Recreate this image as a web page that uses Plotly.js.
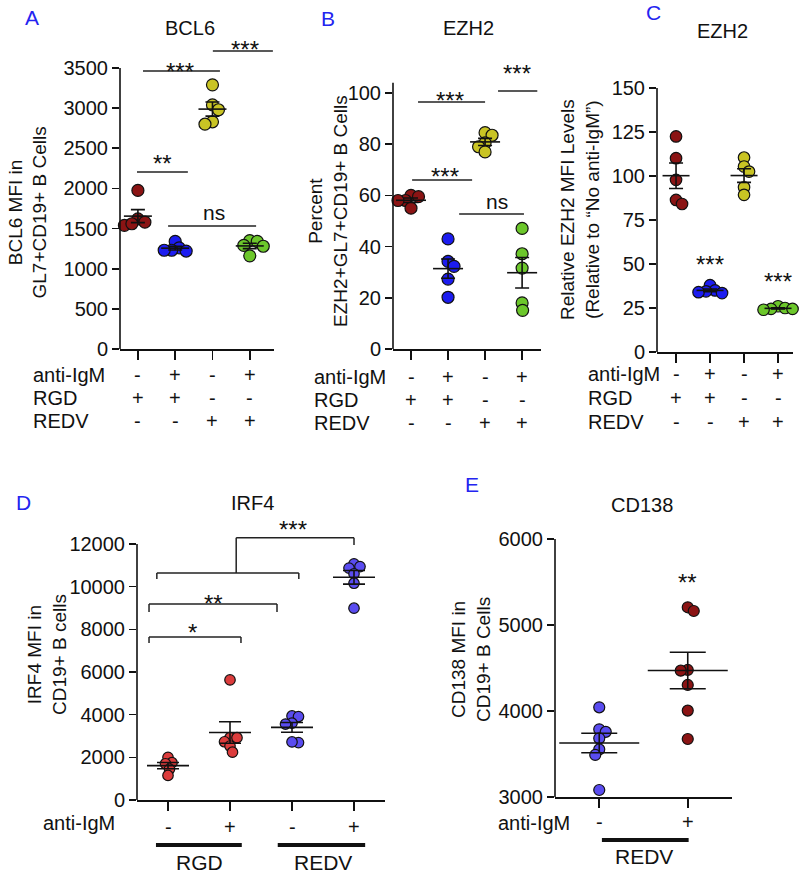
<!DOCTYPE html>
<html><head><meta charset="utf-8">
<script src="https://cdn.plot.ly/plotly-3.0.1.min.js"></script>
<style>html,body{margin:0;padding:0;background:#fff}#chart{width:800px;height:873px}</style>
</head><body><div id="chart"></div>
<script>
// ---------------- DATA ----------------
const categories4 = [1, 2, 3, 4];
const antiIgM_ABC = ['-', '+', '-', '+'];
const RGD_ABC = ['+', '+', '-', '-'];
const REDV_ABC = ['-', '-', '+', '+'];
const categoriesD = [1, 2, 3, 4];
const antiIgM_D = ['-', '+', '-', '+'];
const categoriesE = [1, 2];
const antiIgM_E = ['-', '+'];

// A: BCL6 MFI
const bcl6_RGD = [1975, 1620, 1580, 1540, 1560];
const bcl6_RGD_IgM = [1340, 1260, 1230, 1220, 1230];
const bcl6_REDV = [3290, 3040, 2980, 2830, 2800];
const bcl6_REDV_IgM = [1350, 1340, 1290, 1280, 1160];
// B: Percent EZH2+
const ezh2pct_RGD = [60, 59.5, 58, 58, 55];
const ezh2pct_RGD_IgM = [43, 34.2, 32.3, 27.3, 20.2];
const ezh2pct_REDV = [84.5, 83.5, 80.5, 79, 77];
const ezh2pct_REDV_IgM = [47.1, 37.2, 31.6, 18, 15.1];
// C: Relative EZH2 MFI
const ezh2rel_RGD = [122.5, 110.1, 97.8, 86.4, 84.1];
const ezh2rel_RGD_IgM = [38, 35, 34.5, 34, 33.5];
const ezh2rel_REDV = [110.5, 105.4, 102.5, 93.6, 89.3];
const ezh2rel_REDV_IgM = [26, 25, 24.5, 24.5, 24];
// D: IRF4 MFI
const irf4_RGD = [2000, 1750, 1700, 1450, 1150];
const irf4_RGD_IgM = [5630, 2920, 2920, 2730, 2530, 2240];
const irf4_REDV = [3940, 3910, 3600, 3560, 2690, 2720];
const irf4_REDV_IgM = [11070, 10940, 10870, 10600, 10160, 8990];
// E: CD138 MFI
const cd138_REDV = [4045, 3790, 3760, 3685, 3557, 3492, 3085];
const cd138_REDV_IgM = [5207, 5164, 4479, 4471, 4305, 4007, 3677];

// ---------------- STYLE / LAYOUT ----------------
const W = 800, H = 873;
const FONT = 'Liberation Sans, Arial, Helvetica, sans-serif';
const C_DRED = '#8B1414', C_BLUE = '#1C1CF0', C_YEL = '#C9C424', C_GRN = '#6CC72B',
      C_LRED = '#DC3C3C', C_LAV = '#5A4CF0', C_LETTER = '#2424F0';
const TICK_FS = 20, TXT_FS = 20, YT_FS = 19, STAR_FS = 24;
const fx = p => p / W, fy = p => 1 - p / H;

const panels = [
  { k: '', xr: [0.52, 4.65], xpx: [120, 274], yr: [0, 3900], y0px: 349, ppu: 281 / 3500, dtick: 500, yTop: 3500,
    groups: [bcl6_RGD, bcl6_RGD_IgM, bcl6_REDV, bcl6_REDV_IgM], cats: categories4,
    colors: [C_DRED, C_BLUE, C_YEL, C_GRN], msize: 12, meanLen: 28, capHalf: 7 },
  { k: '2', xr: [0.514, 4.51], xpx: [393, 541], yr: [0, 113], y0px: 349, ppu: 2.56, dtick: 20, yTop: 104,
    groups: [ezh2pct_RGD, ezh2pct_RGD_IgM, ezh2pct_REDV, ezh2pct_REDV_IgM], cats: categories4,
    colors: [C_DRED, C_BLUE, C_YEL, C_GRN], msize: 12, meanLen: 30, capHalf: 7 },
  { k: '3', xr: [0.44, 4.44], xpx: [657, 793], yr: [0, 150], y0px: 352, ppu: 264 / 150, dtick: 25, yTop: 150,
    groups: [ezh2rel_RGD, ezh2rel_RGD_IgM, ezh2rel_REDV, ezh2rel_REDV_IgM], cats: categories4,
    colors: [C_DRED, C_BLUE, C_YEL, C_GRN], msize: 11.5, meanLen: 27, capHalf: 7 },
  { k: '4', xr: [0.5, 4.5], xpx: [137, 385], yr: [0, 13100], y0px: 800, ppu: 256 / 12000, dtick: 2000, yTop: 12000,
    groups: [irf4_RGD, irf4_RGD_IgM, irf4_REDV, irf4_REDV_IgM], cats: categoriesD,
    colors: [C_LRED, C_LRED, C_LAV, C_LAV], msize: 10.5, meanLen: 42, capHalf: 11 },
  { k: '5', xr: [0.5, 2.5], xpx: [555, 732], yr: [3000, 6000], y0px: 797.3, ppu: 258.3 / 3000, dtick: 1000, yTop: 6000,
    groups: [cd138_REDV, cd138_REDV_IgM], cats: categoriesE,
    colors: [C_LAV, C_DRED], msize: 11, meanLen: 80, capHalf: 18 }
];

function mean(a) { return a.reduce((s, v) => s + v, 0) / a.length; }
function sem(a) { const m = mean(a); const sd = Math.sqrt(a.reduce((s, v) => s + (v - m) * (v - m), 0) / (a.length - 1)); return sd / Math.sqrt(a.length); }

// beeswarm layout of points (pixel based, deterministic)
function swarm(vals, center, pxPerX, pxPerY, d) {
  const idx = vals.map((v, i) => i).sort((a, b) => vals[b] - vals[a]);
  const placed = []; const xs = new Array(vals.length); let flip = 1;
  for (const i of idx) {
    const py = vals[i] * pxPerY; let best = null;
    for (let k = 0; k < 400 && best === null; k++) {
      const offs = k === 0 ? [0] : [flip * k * 0.5, -flip * k * 0.5];
      for (const o of offs) {
        if (placed.every(p => Math.hypot(p.px - o, p.py - py) >= d)) { best = o; break; }
      }
    }
    if (best !== 0) flip = -flip;
    placed.push({ px: best, py }); xs[i] = center + best / pxPerX;
  }
  return xs;
}

const traces = [], meanTraces = [];
const layout = {
  width: W, height: H, margin: { l: 0, r: 0, t: 0, b: 0 }, showlegend: false,
  paper_bgcolor: '#fff', plot_bgcolor: 'rgba(0,0,0,0)', font: { family: FONT, color: '#111', size: 18 },
  shapes: [], annotations: []
};

panels.forEach(p => {
  const xa = 'xaxis' + p.k, ya = 'yaxis' + p.k, xid = 'x' + p.k, yid = 'y' + p.k;
  const topPx = p.y0px - (p.yr[1] - p.yr[0]) * p.ppu;
  const pxPerX = (p.xpx[1] - p.xpx[0]) / (p.xr[1] - p.xr[0]);
  layout[xa] = { domain: [fx(p.xpx[0]), fx(p.xpx[1])], range: p.xr, anchor: yid, showgrid: false, zeroline: false,
    showline: true, linewidth: 1.6, linecolor: '#111', ticks: 'outside', ticklen: 9, tickwidth: 1.6, tickcolor: '#111',
    tickvals: p.cats, showticklabels: false, fixedrange: true };
  layout[ya] = { domain: [fy(p.y0px), fy(topPx)], range: p.yr, anchor: xid, showgrid: false, zeroline: false,
    showline: false, ticks: 'outside', ticklen: 7, tickwidth: 1.6, tickcolor: '#111', dtick: p.dtick, tick0: 0,
    tickformat: 'd', tickfont: { family: FONT, size: TICK_FS, color: '#111' }, fixedrange: true };
  layout.shapes.push({ type: 'line', xref: xid + ' domain', yref: yid, x0: 0, x1: 0, y0: p.yr[0], y1: p.yTop,
    line: { color: '#111', width: 1.6 } });
  p.groups.forEach((g, gi) => {
    const xs = swarm(g, p.cats[gi], pxPerX, p.ppu, p.msize * 0.62);
    traces.push({ type: 'scatter', mode: 'markers', xaxis: xid, yaxis: yid, x: xs, y: g, cliponaxis: false,
      marker: { size: p.msize, color: p.colors[gi], line: { color: '#111', width: 1.2 } }, hoverinfo: 'y' });
    meanTraces.push({ type: 'scatter', mode: 'markers', xaxis: xid, yaxis: yid, x: [p.cats[gi]], y: [mean(g)],
      cliponaxis: false,
      marker: { symbol: 'line-ew', size: p.meanLen / 1.4, color: '#111', line: { color: '#111', width: 1.6 } },
      error_y: { type: 'data', array: [sem(g)], visible: true, color: '#111', thickness: 1.6, width: p.capHalf },
      hoverinfo: 'y' });
  });
});

// ---------- significance brackets ----------
function ln(k, x0, y0, x1, y1, w) {
  layout.shapes.push({ type: 'line', xref: 'x' + k, yref: 'y' + k, x0, y0, x1, y1, line: { color: '#222', width: w || 1.5 } });
}
function star(k, x, y, t, isText) {
  layout.annotations.push({ xref: 'x' + k, yref: 'y' + k, x, y, text: t, showarrow: false, xanchor: 'center',
    yanchor: 'middle', yshift: isText ? 2 : -6, font: { family: FONT, size: isText ? 21 : STAR_FS, color: '#111' } });
}
// A
ln('', 1.137, 3462, 3.20, 3462); ln('', 3.01, 3712, 4.62, 3712); ln('', 0.976, 2204, 2.34, 2204); ln('', 1.81, 1532, 4.17, 1532);
star('', 2.13, 3537, '***'); star('', 3.87, 3811, '***'); star('', 1.65, 2379, '**'); star('', 3.04, 1681, 'ns', true);
// B
ln('2', 1.19, 96.5, 3.0, 96.5); ln('2', 1.03, 66, 2.65, 66); ln('2', 2.30, 52.7, 4.05, 52.7); ln('2', 3.35, 100.8, 4.41, 100.8);
star('2', 2.05, 99.6, '***'); star('2', 1.92, 69.9, '***'); star('2', 3.32, 57.0, 'ns', true); star('2', 3.87, 109.8, '***');
// C
star('3', 2, 53.4, '***'); star('3', 4, 43.2, '***');
// D
ln('4', 0.694, 7360, 0.694, 7640); ln('4', 0.694, 7640, 2.177, 7640); ln('4', 2.177, 7640, 2.177, 7360);
ln('4', 0.694, 8810, 0.694, 9190); ln('4', 0.694, 9190, 2.758, 9190); ln('4', 2.758, 9190, 2.758, 8810);
ln('4', 0.82, 10360, 0.82, 10640); ln('4', 0.82, 10640, 3.11, 10640); ln('4', 3.11, 10640, 3.11, 10360);
ln('4', 2.10, 10640, 2.10, 12296); ln('4', 2.10, 12296, 4.0, 12296); ln('4', 4.0, 12296, 4.0, 11953);
star('4', 1.40, 8110, '*'); star('4', 1.74, 9470, '**'); star('4', 3.02, 12940, '***');
// E
star('5', 2, 5570, '**');

// ---------- paper text ----------
function ptext(xpx, ypx, t, opt) {
  opt = opt || {};
  layout.annotations.push(Object.assign({ xref: 'paper', yref: 'paper', x: fx(xpx), y: fy(ypx), text: t, showarrow: false,
    xanchor: opt.xa || 'center', yanchor: 'middle',
    font: { family: FONT, size: opt.size || TXT_FS, color: opt.color || '#111' } }, opt.extra || {}));
}
// panel letters
[['A', 32, 17], ['B', 328, 18], ['C', 653, 13], ['D', 23, 503], ['E', 472, 484]].forEach(a =>
  ptext(a[1], a[2], a[0], { size: 21, color: C_LETTER }));
// titles
ptext(190, 28, 'BCL6', { size: 20 }); ptext(468, 28, 'EZH2', { size: 20 }); ptext(722, 31, 'EZH2', { size: 20 });
ptext(253, 503, 'IRF4', { size: 20 }); ptext(642, 505, 'CD138', { size: 20 });
// y-axis titles
const yt = { size: YT_FS };
ptext(27.5, 213, 'BCL6 MFI in<br>GL7+CD19+ B Cells', Object.assign({ extra: { textangle: -90 } }, yt));
ptext(328, 211, 'Percent<br>EZH2+GL7+CD19+ B Cells', Object.assign({ extra: { textangle: -90 } }, yt));
ptext(580, 210, 'Relative EZH2 MFI Levels<br>(Relative to \u201CNo anti-IgM\u201D)', Object.assign({ extra: { textangle: -90 } }, yt));
ptext(47, 655, 'IRF4 MFI in<br>CD19+ B cells', Object.assign({ extra: { textangle: -90 } }, yt));
ptext(471, 660, 'CD138 MFI in<br>CD19+ B Cells', Object.assign({ extra: { textangle: -90 } }, yt));

function sign(k, x, ypx, s) {
  layout.annotations.push({ xref: 'x' + k, yref: 'paper', x, y: fy(ypx), text: s, showarrow: false,
    xanchor: 'center', yanchor: 'middle', font: { family: FONT, size: TXT_FS, color: '#111' } });
}
// condition tables under A, B, C
function table(k, xLabel, rowsPx) {
  const rows = [['anti-IgM', antiIgM_ABC], ['RGD', RGD_ABC], ['REDV', REDV_ABC]];
  rows.forEach((r, ri) => {
    ptext(xLabel, rowsPx[ri], r[0], { xa: 'left' });
    r[1].forEach((s, ci) => sign(k, categories4[ci], rowsPx[ri], s));
  });
}
table('', 31, [375, 398, 421]);
table('2', 312, [377, 400, 423]);
table('3', 586, [374, 398, 422]);

// D bottom
ptext(41, 823, 'anti-IgM', { xa: 'left' });
antiIgM_D.forEach((s, ci) => sign('4', categoriesD[ci], 827, s));
layout.shapes.push({ type: 'line', xref: 'x4', yref: 'paper', x0: 0.806, x1: 2.19, y0: fy(845), y1: fy(845), line: { color: '#111', width: 4 } });
layout.shapes.push({ type: 'line', xref: 'x4', yref: 'paper', x0: 2.77, x1: 4.18, y0: fy(845), y1: fy(845), line: { color: '#111', width: 4 } });
layout.annotations.push({ xref: 'x4', yref: 'paper', x: 1.5, y: fy(862), text: 'RGD', showarrow: false, yanchor: 'middle', font: { family: FONT, size: 21, color: '#111' } });
layout.annotations.push({ xref: 'x4', yref: 'paper', x: 3.5, y: fy(862), text: 'REDV', showarrow: false, yanchor: 'middle', font: { family: FONT, size: 21, color: '#111' } });

// E bottom
ptext(496, 823, 'anti-IgM', { xa: 'left' });
antiIgM_E.forEach((s, ci) => sign('5', categoriesE[ci], 822, s));
layout.shapes.push({ type: 'line', xref: 'x5', yref: 'paper', x0: 1.03, x1: 2.01, y0: fy(840), y1: fy(840), line: { color: '#111', width: 4 } });
layout.annotations.push({ xref: 'x5', yref: 'paper', x: 1.5, y: fy(856), text: 'REDV', showarrow: false, yanchor: 'middle', font: { family: FONT, size: 21, color: '#111' } });

Plotly.newPlot('chart', traces.concat(meanTraces), layout, { staticPlot: true, displayModeBar: false });
</script></body></html>
